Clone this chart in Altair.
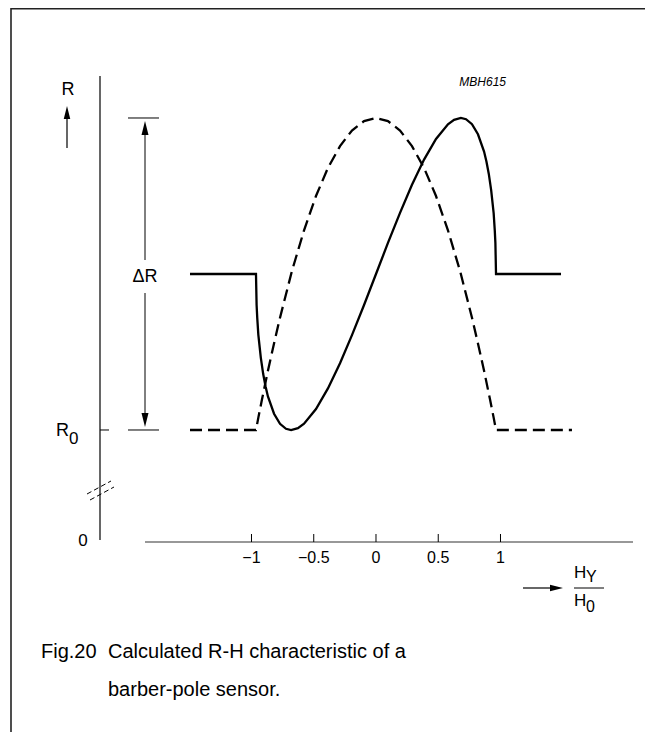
import altair as alt
import pandas as pd

# ---- data (H_Y/H_0 on x, (R-R0)/dR on y) ----
solid_h = [-1.494, -0.964, -0.959, -0.954, -0.945, -0.925, -0.906, -0.887, -0.868,
           -0.819, -0.771, -0.723, -0.682, -0.627, -0.578, -0.482, -0.386, -0.289,
           -0.193, -0.096, 0.0, 0.096, 0.193, 0.289, 0.386, 0.482, 0.578, 0.627,
           0.682, 0.723, 0.771, 0.819, 0.868, 0.887, 0.906, 0.925, 0.945, 0.954,
           0.959, 0.964, 1.486]
solid_r = [0.5, 0.5, 0.4006, 0.3603, 0.305, 0.2312, 0.1793, 0.1394, 0.1077,
           0.0522, 0.02, 0.0039, 0.0, 0.006, 0.02, 0.067, 0.1334, 0.2138,
           0.304, 0.4005, 0.5, 0.5995, 0.696, 0.7862, 0.8666, 0.933, 0.98, 0.994,
           1.0, 0.9961, 0.98, 0.9478, 0.8923, 0.8606, 0.8207, 0.7688, 0.695, 0.6397,
           0.5994, 0.5, 0.5]
dashed_h = [-1.494, -0.964, -0.945, -0.916, -0.868, -0.819, -0.771, -0.675, -0.578,
            -0.482, -0.386, -0.289, -0.193, -0.096, 0.0, 0.096, 0.193, 0.289, 0.386,
            0.482, 0.578, 0.675, 0.771, 0.819, 0.868, 0.916, 0.945, 0.964, 1.574]
dashed_r = [0.0, 0.0, 0.0396, 0.0975, 0.19, 0.2775, 0.36, 0.51, 0.64,
            0.75, 0.84, 0.91, 0.96, 0.99, 1.0, 0.99, 0.96, 0.91, 0.84,
            0.75, 0.64, 0.51, 0.36, 0.2775, 0.19, 0.0975, 0.0396, 0.0, 0.0]
tick_values = [-1, -0.5, 0, 0.5, 1]
tick_labels = ["\u22121", "\u22120.5", "0", "0.5", "1"]
level_values = [0.0, 1.0]          # R0 and R0 + dR
caption_line1 = "Calculated R-H characteristic of a"
caption_line2 = "barber-pole sensor."
fig_label = "Fig.20"
code_label = "MBH615"

W, H = 637, 724
FONT = "Liberation Sans"
xs = alt.Scale(domain=[-2.955823, 2.160643], nice=False, zero=False)
ys = alt.Scale(domain=[-0.967949, 1.352564], nice=False, zero=False)
one = pd.DataFrame({"a": [0]})


def seg(x1, y1, x2, y2, w=1.2, dash=None, color="black"):
    kw = dict(color=color, strokeWidth=w)
    if dash:
        kw["strokeDash"] = dash
    return alt.Chart(one).mark_rule(**kw).encode(
        x=alt.value(x1), y=alt.value(y1), x2=alt.value(x2), y2=alt.value(y2))


def txt(s, x, y, size=14, align="center", style="normal"):
    return alt.Chart(one).mark_text(
        text=s, align=align, baseline="middle", fontSize=size, font=FONT,
        fontStyle=style, color="black").encode(x=alt.value(x), y=alt.value(y))


def head(x, y, path, size):
    return alt.Chart(one).mark_point(
        shape=path, size=size, filled=True, color="black", opacity=1,
        strokeWidth=0).encode(x=alt.value(x), y=alt.value(y))


UP = "M0,-1L0.5,1L-0.5,1Z"
DOWN = "M0,1L0.5,-1L-0.5,-1Z"
RIGHT = "M1,0L-1,-0.5L-1,0.5Z"

solid_df = pd.DataFrame({"h": solid_h, "r": solid_r, "i": range(len(solid_h))})
dashed_df = pd.DataFrame({"h": dashed_h, "r": dashed_r, "i": range(len(dashed_h))})
ticks_df = pd.DataFrame({"h": tick_values, "lab": tick_labels})
levels_df = pd.DataFrame({"r": level_values})

solid = alt.Chart(solid_df).mark_line(color="black", strokeWidth=2.3).encode(
    x=alt.X("h:Q", scale=xs, axis=None),
    y=alt.Y("r:Q", scale=ys, axis=None),
    order="i:Q")
dashed = alt.Chart(dashed_df).mark_line(
    color="black", strokeWidth=2.3, strokeDash=[12, 6]).encode(
    x=alt.X("h:Q", scale=xs, axis=None),
    y=alt.Y("r:Q", scale=ys, axis=None),
    order="i:Q")

xticks = alt.Chart(ticks_df).mark_rule(color="black", strokeWidth=1).encode(
    x=alt.X("h:Q", scale=xs, axis=None), y=alt.value(534), y2=alt.value(526))
xlabels = alt.Chart(ticks_df).mark_text(
    fontSize=16, font=FONT, baseline="middle", color="black").encode(
    x=alt.X("h:Q", scale=xs, axis=None), y=alt.value(550), text="lab:N")

r0_tick = alt.Chart(levels_df[levels_df.r == 0]).mark_rule(
    color="black", strokeWidth=1).encode(
    y=alt.Y("r:Q", scale=ys, axis=None), x=alt.value(92), x2=alt.value(101))
dim_ticks = alt.Chart(levels_df).mark_rule(color="black", strokeWidth=1).encode(
    y=alt.Y("r:Q", scale=ys, axis=None), x=alt.value(120), x2=alt.value(151))

layers = [
    # frame
    seg(3, 0.8, W, 0.8, w=1.6, color="#222"),
    seg(3, 0, 3, H, w=1.6, color="#222"),
    # y axis and break marks
    seg(92, 68, 92, 532, w=1.2),
    seg(79, 486, 103, 473, w=1, dash=[5, 3]),
    seg(82, 492, 106, 479, w=1, dash=[5, 3]),
    # x axis
    seg(137, 534, 625, 534, w=1.2, color="#333"),
    xticks, xlabels,
    r0_tick, dim_ticks,
    # dimension arrow dR
    seg(137, 120, 137, 252, w=1),
    seg(137, 285, 137, 412, w=1),
    head(137, 120, UP, 196),
    head(137, 412, DOWN, 196),
    txt("\u0394R", 137, 269, 18),
    # R axis arrow
    seg(59, 140, 59, 108, w=1.2),
    head(59, 104.5, UP, 169),
    txt("R", 60, 82, 18),
    txt("R", 48, 423, 18, align="left"),
    txt("0", 61, 431, 17, align="left"),
    txt("0", 75, 533, 17),
    # H_Y / H_0 arrow and fraction
    seg(515, 580, 547, 580, w=1.2),
    head(548.5, 580, RIGHT, 169),
    txt("H", 566, 565, 17, align="left"),
    txt("Y", 578, 569, 16, align="left"),
    seg(566, 580, 596, 580, w=1),
    txt("H", 566, 593, 17, align="left"),
    txt("0", 578, 599, 16, align="left"),
    txt(code_label, 498, 74, 12, align="right", style="italic"),
    # caption
    txt(fig_label, 33, 644, 20, align="left"),
    txt(caption_line1, 100, 644, 20, align="left"),
    txt(caption_line2, 100, 682, 20, align="left"),
    # curves
    dashed, solid,
]

chart = alt.layer(*layers).properties(
    width=W, height=H, padding=0, autosize=alt.AutoSizeParams(type="none"),
    background="white",
).configure_view(stroke=None)

chart.save("out.html", embed_options={"renderer": "svg", "actions": False})
